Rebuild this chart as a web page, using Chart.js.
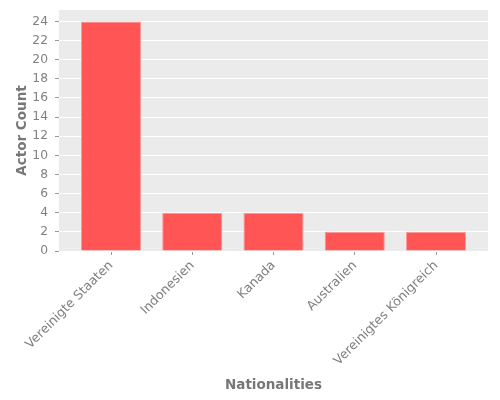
<!DOCTYPE html>
<html>
<head>
<meta charset="utf-8">
<script src="https://cdn.jsdelivr.net/npm/chart.js@4"></script>
<style>
  html, body { margin: 0; padding: 0; background: #fff; }
  #wrap { width: 500px; height: 400px; }
</style>
</head>
<body>
<div id="wrap"><canvas id="myBarChart"></canvas></div>
<script>
var nationalities = ['Vereinigte Staaten', 'Indonesien', 'Kanada', 'Australien', 'Vereinigtes Königreich'];
var actorCounts = [24, 4, 4, 2, 2];
var yTicks = [0, 2, 4, 6, 8, 10, 12, 14, 16, 18, 20, 22, 24];

// grey panel behind the bars
var panelBg = {
  id: 'panelBg',
  beforeDraw: function (chart) {
    var a = chart.chartArea, c = chart.ctx;
    c.save();
    c.fillStyle = '#EBEBEB';
    c.fillRect(a.left, a.top, a.right - a.left, a.bottom - a.top);
    c.restore();
  }
};

var data = {
  datasets: [{
    label: 'Actor Count',
    data: nationalities.map(function (n, i) { return { x: i, y: actorCounts[i] }; }),
    backgroundColor: '#FF5555',
    borderColor: '#FF9A9A',
    borderWidth: 1,
    categoryPercentage: 1,
    barPercentage: 0.74
  }]
};

var options = {
  responsive: true,
  maintainAspectRatio: false,
  animation: false,
  layout: { padding: { top: 10, right: 12, bottom: 2, left: 0 } },
  scales: {
    x: {
      type: 'linear',
      offset: false,
      min: -0.64,
      max: 4.64,
      afterBuildTicks: function (s) { s.ticks = nationalities.map(function (n, i) { return { value: i }; }); },
      afterFit: function (s) { s.height = 147; s.paddingLeft = 0; s.paddingRight = 0; },
      grid: { offset: false, drawOnChartArea: false, drawTicks: true, tickLength: 4, tickColor: '#999' },
      border: { display: false },
      ticks: {
        minRotation: 45,
        maxRotation: 45,
        padding: 3,
        color: '#808080',
        font: { family: 'DejaVu Sans', size: 12.7 },
        callback: function (v) { return nationalities[v]; }
      },
      title: {
        display: true,
        text: 'Nationalities',
        color: '#777',
        padding: { top: 4, bottom: 4 },
        font: { family: 'DejaVu Sans', size: 13.5, weight: 'bold' }
      }
    },
    y: {
      min: 0,
      max: 25.2,
      afterBuildTicks: function (s) { s.ticks = yTicks.map(function (v) { return { value: v }; }); },
      afterFit: function (s) { s.width = 59; s.paddingTop = 0; s.paddingBottom = 0; },
      grid: { color: '#FFFFFF', lineWidth: 1, drawTicks: true, tickLength: 4, tickColor: '#999' },
      border: { display: false },
      ticks: {
        padding: 7,
        color: '#808080',
        font: { family: 'DejaVu Sans', size: 12.3 }
      },
      title: {
        display: true,
        text: 'Actor Count',
        color: '#777',
        padding: { top: 14, bottom: 4 },
        font: { family: 'DejaVu Sans', size: 13.5, weight: 'bold' }
      }
    }
  },
  plugins: {
    legend: { display: false },
    tooltip: { enabled: false }
  }
};

var ctx = document.getElementById('myBarChart').getContext('2d');
var myBarChart = new Chart(ctx, {
  type: 'bar',
  data: data,
  options: options,
  plugins: [panelBg]
});
</script>
</body>
</html>
